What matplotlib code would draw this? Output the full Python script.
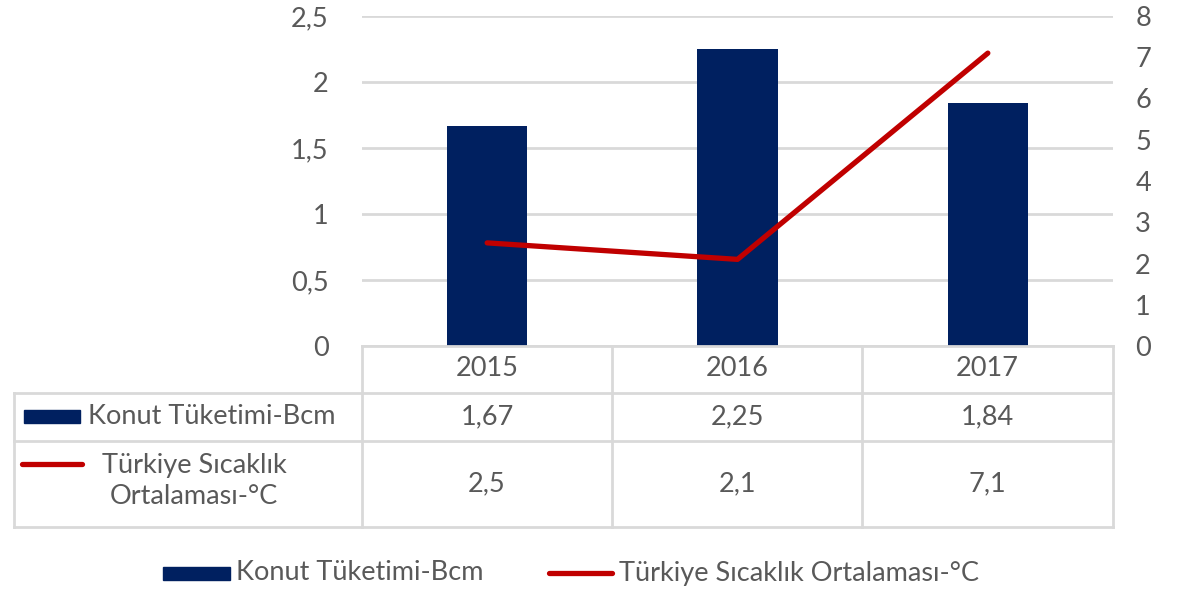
import numpy as np
import matplotlib.pyplot as plt
from matplotlib.lines import Line2D
from matplotlib.patches import Rectangle

# data
years = ['2015', '2016', '2017']
konut = [1.67, 2.25, 1.84]
sicaklik = [2.5, 2.1, 7.1]
bar_label = 'Konut Tüketimi-Bcm'
line_label = 'Türkiye Sıcaklık Ortalaması-°C'

navy = '#002060'
red = '#C00000'
grid_c = '#d9d9d9'
txt_c = '#595959'
plt.rcParams['font.family'] = ['Lato', 'DejaVu Sans']

W, H = 1178, 591
fig = plt.figure(figsize=(W / 100, H / 100), dpi=100)


def fx(x):
    return x / W


def fy(y):
    return 1 - y / H


ax = fig.add_axes([fx(362), fy(346), fx(1113) - fx(362), fy(16) - fy(346)])
x = np.arange(len(years))
ax.bar(x, konut, width=0.32, color=navy, zorder=3)
ax.set_xlim(-0.5, len(years) - 0.5)
ax.set_ylim(0, 2.5)
ax.set_yticks(np.arange(0, 2.51, 0.5))
ax.set_yticklabels(['0', '0,5', '1', '1,5', '2', '2,5'])
ax.set_xticks([])
ax.grid(axis='y', color=grid_c, lw=2, zorder=0)
for s in ax.spines.values():
    s.set_visible(False)
fs = 19.5
ax.tick_params(axis='y', length=0, pad=24, labelsize=fs, labelcolor=txt_c)

ax2 = ax.twinx()
ax2.plot(x, sicaklik, color=red, lw=3.8, solid_capstyle='round', zorder=4)
ax2.set_ylim(0, 8)
ax2.set_yticks(range(0, 9))
for s in ax2.spines.values():
    s.set_visible(False)
ax2.tick_params(axis='y', length=0, pad=16, labelsize=fs, labelcolor=txt_c)

# data table
cols = [362, 612, 862, 1113]
rows = [346, 393, 441, 527]
lw = 2
fig.add_artist(Line2D([fx(362), fx(1113)], [fy(346), fy(346)], color=grid_c, lw=lw))
for yy in rows[1:]:
    fig.add_artist(Line2D([fx(14), fx(1113)], [fy(yy), fy(yy)], color=grid_c, lw=lw))
for xx in cols:
    fig.add_artist(Line2D([fx(xx), fx(xx)], [fy(346), fy(527)], color=grid_c, lw=lw))
fig.add_artist(Line2D([fx(14), fx(14)], [fy(393), fy(527)], color=grid_c, lw=lw))

for i, yr in enumerate(years):
    cx = (cols[i] + cols[i + 1]) / 2
    fig.text(fx(cx), fy(369), yr, ha='center', va='center', fontsize=fs, color=txt_c)
    fig.text(fx(cx), fy(417), f'{konut[i]:.2f}'.replace('.', ','), ha='center', va='center',
             fontsize=fs, color=txt_c)
    fig.text(fx(cx), fy(484), f'{sicaklik[i]:.1f}'.replace('.', ','), ha='center', va='center',
             fontsize=fs, color=txt_c)

# legend keys in table
fig.add_artist(Rectangle((fx(24), fy(423)), fx(80) - fx(24), fy(410) - fy(423), color=navy))
fig.text(fx(88), fy(417), bar_label, ha='left', va='center', fontsize=fs, color=txt_c)
fig.add_artist(Line2D([fx(22), fx(82)], [fy(464), fy(464)], color=red, lw=3.8,
                      solid_capstyle='round'))
fig.text(fx(194), fy(481), 'Türkiye Sıcaklık\nOrtalaması-°C', ha='center', va='center',
         fontsize=fs, color=txt_c, linespacing=1.25)

# bottom legend
fig.add_artist(Rectangle((fx(163), fy(580)), fx(230) - fx(163), fy(567) - fy(580), color=navy))
fig.text(fx(236), fy(573), bar_label, ha='left', va='center', fontsize=fs, color=txt_c)
fig.add_artist(Line2D([fx(549), fx(612)], [fy(573), fy(573)], color=red, lw=3.8,
                      solid_capstyle='round'))
fig.text(fx(619), fy(573), line_label, ha='left', va='center', fontsize=fs, color=txt_c)

fig.savefig('out.png', dpi=100)
